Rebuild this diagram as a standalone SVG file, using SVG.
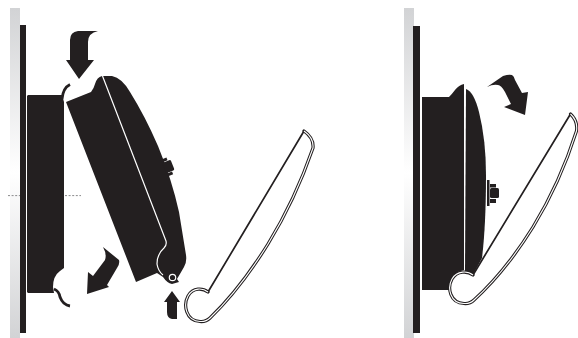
<svg xmlns="http://www.w3.org/2000/svg" width="578" height="338" viewBox="0 0 578 338">
<defs>
<linearGradient id="wall" x1="0" y1="0" x2="0" y2="1"><stop offset="0" stop-color="#d2d3d5"/><stop offset="0.5" stop-color="#ffffff"/><stop offset="1" stop-color="#d2d3d5"/></linearGradient>
</defs>
<style>
.k{fill:#231f20}
.w{fill:url(#wall)}
.wl{fill:none;stroke:#fff;stroke-width:1.2}
.hf{fill:#fff;stroke:none}
.ln{fill:none;stroke:#231f20;stroke-width:1.700;stroke-linecap:round}
.h1{fill:none;stroke:#231f20;stroke-width:3.200;stroke-linejoin:round;stroke-linecap:round}
.h2{fill:none;stroke:#fff;stroke-width:1.100;stroke-linejoin:round}
.hk{fill:none;stroke:#231f20;stroke-width:2.800}
</style>
<g id="left-wall"><rect class="w" x="10" y="8" width="10" height="330"/><rect class="k" x="20" y="25" width="6" height="308"/></g>
<g id="right-wall"><rect class="w" x="404" y="8" width="10" height="330"/><rect class="k" x="413" y="26" width="7" height="307"/></g>
<g id="connectors">
<path d="M8 195.600H20M65 195.600H81" stroke="#8a8a8c" stroke-width="1" stroke-dasharray="2 1.600" fill="none"/>
</g>
<g id="left-body">
<path class="k" d="M28 95H62L64 102V268L60 271Q53 276 53 287L54 293H28L27 292V96Z"/>
<path class="hk" d="M62 99Q63 88 70 84.500"/>
<path class="hk" d="M54 289Q59 291 60 297Q63 305 70 306"/>
</g>
<g id="left-cover">
<path class="k" d="M66 102L91 92Q94 88 95 84Q97 77 102 76L112 76Q122 78 130 92Q145 116 158 146Q172 180 179 212L186 255Q187 262 184 267Q180 274 177 279L179 282L172 284Q167 283 163 277L157 273L136 282Z"/>
<path class="wl" d="M102.500 76L166 241Q167 245 164 248Q157 254 157 264Q158 271 163 275"/>
<circle cx="172.500" cy="277.500" r="3.200" fill="#231f20" stroke="#fff" stroke-width="1.200"/>
<g id="left-knob" transform="translate(167 167) rotate(-22)">
<rect class="k" x="-3" y="-5.500" width="9" height="11" rx="1.500"/>
<rect class="k" x="-3" y="-9" width="6" height="3"/>
<rect class="k" x="-3" y="6" width="6" height="3"/>
</g>
</g>
<g id="left-handle">
<path class="hf" d="M304 131L208 292C203 288 193 287 188 296C183 305 186 321 200 321.500Q206 322 210 318Q240 289 268 244Q295 200 313 148Q314 138 304 131Z"/>
<path class="ln" d="M304 131L208 292"/>
<path class="h1" d="M304 131Q314 138 313 148Q295 200 268 244Q240 289 210 318Q206 322 200 321.500C186 321 183 305 188 296C193 287 203 288 208 292"/>
<path class="h2" d="M304 131Q314 138 313 148Q295 200 268 244Q240 289 210 318Q206 322 200 321.500C186 321 183 305 188 296C193 287 203 288 208 292"/>
</g>
<g id="right-body">
<path class="k" d="M422 97H449Q452 94 455 90Q459 85 464 84V270L458 272Q450 277 449 290H422Z"/>
<path class="k" d="M466 89Q474 92 479 112Q486 140 486 175Q486 225 482 258L473 275L465 271Z"/>
<g id="right-knob">
<rect class="k" x="487" y="180" width="2.500" height="26"/>
<rect class="k" x="490" y="184" width="6" height="3.500"/>
<rect class="k" x="490" y="188" width="9" height="10" rx="1.500"/>
<rect class="k" x="490" y="199" width="6" height="4"/>
</g>
</g>
<g id="right-handle">
<path class="hf" d="M570.500 114L473 275C468 271 457 270 452 279C447 288 450 303 464 303.500Q470 304 474 300Q505 272 533 227Q560 183 577 131Q578 121 570.500 114Z"/>
<path class="ln" d="M570.500 114L473 275"/>
<path class="h1" d="M570.500 114Q578 121 576.500 131Q560 183 533 227Q505 272 474 300Q470 304 464 303.500C450 303 447 288 452 279C457 270 468 271 473 275"/>
<path class="h2" d="M570.500 114Q578 121 576.500 131Q560 183 533 227Q505 272 474 300Q470 304 464 303.500C450 303 447 288 452 279C457 270 468 271 473 275"/>
</g>
<g id="arrows">
<path class="k" d="M98 31H78Q70 32 70 40V60H66L79 79L94 60H88V42Q88 33 98 31Z"/>
<path class="k" d="M103 247L119 260Q120 264 117 268L107 285L109 287L87 294L88 272L93 276L105 260Q107 254 103 247Z"/>
<path class="k" d="M172 291L180 302H177V319H183L172 319Q167 318 167 312V302H164Z"/>
<path class="k" d="M487 87L503 76Q509 74 512 75Q514 76 515 80L522 93L528 92L525 115L504 107L511 104L505 92Q501 85 498 85Q493 84 487 87Z"/>
</g>
</svg>
